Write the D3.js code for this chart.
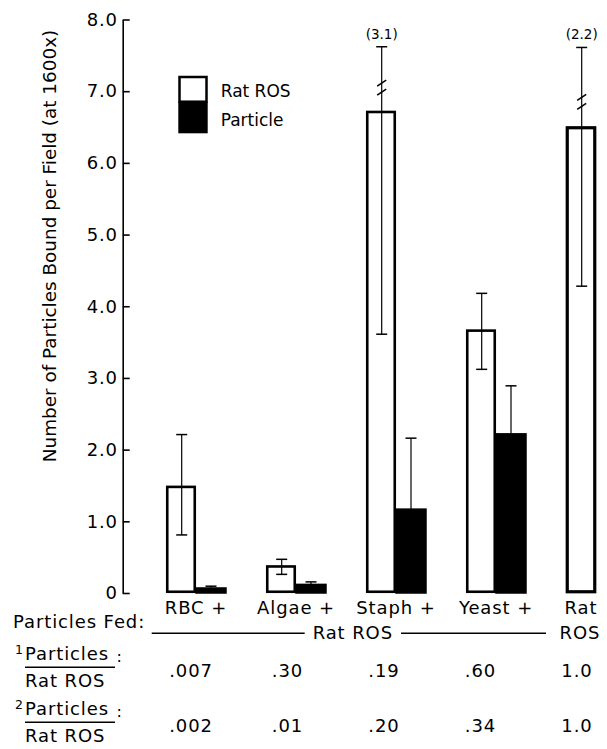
<!DOCTYPE html>
<html>
<head>
  <meta charset="utf-8">
  <title>Particles bound per field</title>
  <script src="https://d3js.org/d3.v7.min.js"></script>
  <style>
    body { margin: 0; background: #fff; }
    svg text { font-family: "DejaVu Sans", sans-serif; fill: #000; }
  </style>
</head>
<body>
  <div id="chart"></div>
  <script>
    // values
    var categories = ["RBC +", "Algae +", "Staph +", "Yeast +", "Rat ROS"];
    var rosMean  = [1.48, 0.37, 6.71, 3.66, 6.49];
    var rosUpper = [2.21, 0.47, 7.62, 4.18, 7.61];
    var rosLower = [0.81, 0.26, 3.61, 3.12, 4.28];
    var partMean  = [0.07, 0.12, 1.17, 2.22, null];
    var partUpper = [0.095, 0.155, 2.16, 2.89, null];
    var breakAt  = [null, null, 7.05, null, 6.85];   // axis break on the error bar
    var sdLabels = [null, null, "(3.1)", null, "(2.2)"];
    var ratio1 = [".007", ".30", ".19", ".60", "1.0"];
    var ratio2 = [".002", ".01", ".20", ".34", "1.0"];
    var yTicks = [0, 1, 2, 3, 4, 5, 6, 7, 8];

    var svg = d3.select("#chart").append("svg")
      .attr("width", 607)
      .attr("height", 749);

    var x = d3.scaleBand()
      .domain(categories)
      .range([166, 626])
      .paddingInner(0.4)
      .paddingOuter(0);

    var xs = d3.scaleBand()
      .domain(["ros", "particle"])
      .range([0, x.bandwidth()]);

    var y = d3.scaleLinear()
      .domain([0, 8])
      .range([593, 19.5]);

    // columns of the ratio table
    var xTable = d3.scalePoint()
      .domain(categories)
      .range([191, 577]);

    // y axis: ticks point inward, labels on the left
    var yAxis = svg.append("g")
      .attr("transform", "translate(122.7,0)")
      .call(d3.axisLeft(y)
        .tickValues(yTicks)
        .tickSize(-7)
        .tickSizeOuter(0)
        .tickPadding(5)
        .tickFormat(function(d) { return d === 0 ? "0" : d3.format(".1f")(d); }));
    yAxis.select(".domain").attr("stroke-width", 1.6);
    yAxis.selectAll(".tick line").attr("stroke-width", 1.6);
    yAxis.selectAll(".tick text")
      .style("font-size", "18px")
      .style("letter-spacing", "0.8px")
      .style("font-family", "DejaVu Sans");

    svg.append("text")
      .attr("transform", "translate(56,246) rotate(-90)")
      .attr("text-anchor", "middle")
      .style("font-size", "18.4px")
      .text("Number of Particles Bound per Field (at 1600x)");

    var groups = svg.selectAll(".grp")
      .data(categories)
      .enter().append("g")
      .attr("class", "grp")
      .attr("transform", function(d) { return "translate(" + x(d) + ",0)"; });

    // particle (black) bars and their upper error bars
    groups.each(function(d, i) {
      var g = d3.select(this);
      if (partMean[i] === null) return;
      var bx = xs("particle");
      g.append("rect")
        .attr("x", bx)
        .attr("y", y(partMean[i]))
        .attr("width", xs.bandwidth())
        .attr("height", y(0) - y(partMean[i]))
        .attr("fill", "#000")
        .attr("stroke", "#000")
        .attr("stroke-width", 1.5);
      var cx = bx + xs.bandwidth() / 2;
      g.append("line")
        .attr("x1", cx).attr("x2", cx)
        .attr("y1", y(partMean[i])).attr("y2", y(partUpper[i]))
        .attr("stroke", "#000").attr("stroke-width", 1.2);
      g.append("line")
        .attr("x1", cx - 5.5).attr("x2", cx + 5.5)
        .attr("y1", y(partUpper[i])).attr("y2", y(partUpper[i]))
        .attr("stroke", "#000").attr("stroke-width", 1.5);
    });

    // rat ROS (white) bars with error bars
    groups.each(function(d, i) {
      var g = d3.select(this);
      var bx = xs("ros");
      g.append("rect")
        .attr("x", bx + 1.25)
        .attr("y", y(rosMean[i]))
        .attr("width", xs.bandwidth() - 2.5)
        .attr("height", y(0) - y(rosMean[i]) - 1.25)
        .attr("fill", "#fff")
        .attr("stroke", "#000")
        .attr("stroke-width", i === 4 ? 3.2 : 2.6);
      var cx = bx + xs.bandwidth() / 2 + 0.7;
      g.append("line")
        .attr("x1", cx).attr("x2", cx)
        .attr("y1", y(rosLower[i])).attr("y2", y(rosUpper[i]))
        .attr("stroke", "#000").attr("stroke-width", 1.2);
      [rosLower[i], rosUpper[i]].forEach(function(v) {
        g.append("line")
          .attr("x1", cx - 5.5).attr("x2", cx + 5.5)
          .attr("y1", y(v)).attr("y2", y(v))
          .attr("stroke", "#000").attr("stroke-width", 1.5);
      });
      if (breakAt[i] !== null) {
        [-4.5, 4.5].forEach(function(off) {
          var by = y(breakAt[i]) + off;
          g.append("line")
            .attr("x1", cx - 4.5).attr("x2", cx + 4.5)
            .attr("y1", by + 3).attr("y2", by - 3)
            .attr("stroke", "#000").attr("stroke-width", 1.6);
        });
        g.append("text")
          .attr("x", cx)
          .attr("y", y(rosUpper[i]) - 8)
          .attr("text-anchor", "middle")
          .style("font-size", "13.5px")
          .text(sdLabels[i]);
      }
    });

    // legend
    var legend = svg.append("g");
    legend.append("rect")
      .attr("x", 179.5).attr("y", 77)
      .attr("width", 27).attr("height", 24.7)
      .attr("fill", "#fff").attr("stroke", "#000").attr("stroke-width", 2.5);
    legend.append("rect")
      .attr("x", 178.3).attr("y", 101.7)
      .attr("width", 29.4).attr("height", 31.6)
      .attr("fill", "#000");
    legend.append("text")
      .attr("x", 220.7).attr("y", 96.7)
      .style("font-size", "17px")
      .text("Rat ROS");
    legend.append("text")
      .attr("x", 220.7).attr("y", 126)
      .style("font-size", "17px")
      .text("Particle");

    // bottom labels
    var labelStyle = function(sel) {
      return sel.style("font-size", "18px").style("letter-spacing", "0.9px");
    };

    labelStyle(svg.append("text")
      .attr("x", 13).attr("y", 628.3)
      .text("Particles Fed:"));

    svg.selectAll(".cat")
      .data(categories)
      .enter().append("text")
      .attr("class", "cat")
      .attr("x", function(d, i) {
        return i === 4 ? x(d) + xs.bandwidth() / 2 : x(d) + x.bandwidth() / 2;
      })
      .attr("y", 613.5)
      .attr("text-anchor", "middle")
      .call(labelStyle)
      .text(function(d) { return d === "Rat ROS" ? "Rat" : d; });

    labelStyle(svg.append("text")
      .attr("x", x("Rat ROS") + xs.bandwidth() / 2 - 1)
      .attr("y", 639)
      .attr("text-anchor", "middle")
      .text("ROS"));

    // "—— Rat ROS ——" spanning the four mixed groups
    var lineY = 633.3;
    var lx1 = x("RBC +") - 14.3;
    var lx2 = x("Yeast +") + x.bandwidth() + 20;
    var mid = (lx1 + lx2) / 2 + 4;
    var span = labelStyle(svg.append("text")
      .attr("x", mid).attr("y", 639)
      .attr("text-anchor", "middle")
      .text("Rat ROS"));
    var half = span.node().getComputedTextLength() / 2 + 8;
    svg.append("line")
      .attr("x1", lx1).attr("x2", mid - half)
      .attr("y1", lineY).attr("y2", lineY)
      .attr("stroke", "#000").attr("stroke-width", 1.5);
    svg.append("line")
      .attr("x1", mid + half).attr("x2", lx2)
      .attr("y1", lineY).attr("y2", lineY)
      .attr("stroke", "#000").attr("stroke-width", 1.5);

    // ratio rows
    [[ratio1, "1", 660, 676.7], [ratio2, "2", 715, 731.7]].forEach(function(row) {
      var vals = row[0], base = row[2];
      var g = svg.append("g");
      g.append("text")
        .attr("x", 15).attr("y", base - 6)
        .style("font-size", "12.5px")
        .text(row[1]);
      labelStyle(g.append("text")
        .attr("x", 25).attr("y", base)
        .text("Particles"));
      g.append("line")
        .attr("x1", 25).attr("x2", 115)
        .attr("y1", base + 7.3).attr("y2", base + 7.3)
        .attr("stroke", "#000").attr("stroke-width", 1.5);
      labelStyle(g.append("text")
        .attr("x", 25).attr("y", base + 26.7)
        .text("Rat ROS"));
      g.append("text")
        .attr("x", 116.5).attr("y", base + 2)
        .style("font-size", "16px")
        .text(":");
      g.selectAll(".val")
        .data(vals)
        .enter().append("text")
        .attr("class", "val")
        .attr("x", function(d, i) { return xTable(categories[i]); })
        .attr("y", row[3])
        .attr("text-anchor", "middle")
        .call(labelStyle)
        .text(function(d) { return d; });
    });
  </script>
</body>
</html>
